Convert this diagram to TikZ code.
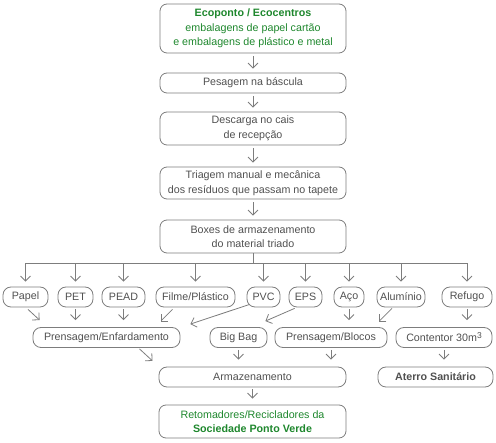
\documentclass[tikz,border=0pt]{standalone}
\usepackage{fontspec}
\setmainfont{Liberation Sans}
\usetikzlibrary{arrows.meta,calc}
\definecolor{linegray}{RGB}{125,125,125}
\definecolor{txtgray}{RGB}{80,80,80}
\definecolor{ecogreen}{RGB}{30,135,45}
\begin{document}
\begin{tikzpicture}[x=1pt,y=-1pt,
  box/.style={draw=linegray,line width=0.8pt,rounded corners=7pt,text=txtgray,
    font=\fontsize{10.7}{14.5}\selectfont,align=center,inner sep=0pt,
    minimum width=186pt},
  pill/.style={draw=linegray,line width=0.8pt,rounded corners=8pt,text=txtgray,
    font=\fontsize{10.7}{13}\selectfont,align=center,inner sep=0pt,
    minimum height=20pt},
  arr/.style={draw=linegray,line width=0.8pt,-{Straight Barb[length=5pt,width=10pt]}},
  ln/.style={draw=linegray,line width=0.8pt}]
\useasboundingbox (0,0) rectangle (496,443);

\node[box,minimum height=49pt,text=ecogreen] (eco) at (253,28.5)
  {\textbf{Ecoponto / Ecocentros}\\embalagens de papel cartão\\e embalagens de plástico e metal};
\node[box,minimum height=20pt] (pes) at (253,83) {Pesagem na báscula};
\node[box,minimum height=33pt] (des) at (253,128.5) {Descarga no cais\\de recepção};
\node[box,minimum height=32pt] (tri) at (253,183) {Triagem manual e mecânica\\dos resíduos que passam no tapete};
\node[box,minimum height=33pt] (boxes) at (253,236.5) {Boxes de armazenamento\\do material triado};

% row of materials
\node[pill,minimum width=45pt] (papel) at (25.5,297) {Papel};
\node[pill,minimum width=35pt] (pet) at (75.5,297) {PET};
\node[pill,minimum width=43pt] (pead) at (123.5,297) {PEAD};
\node[pill,minimum width=79pt] (filme) at (195.5,297) {Filme/Plástico};
\node[pill,minimum width=33pt] (pvc) at (263.5,297) {PVC};
\node[pill,minimum width=33pt] (eps) at (305.5,297) {EPS};
\node[pill,minimum width=30pt] (aco) at (349,297) {Aço};
\node[pill,minimum width=48pt] (alu) at (401,297) {Alumínio};
\node[pill,minimum width=50pt] (ref) at (467,297) {Refugo};

% processing row
\node[pill,minimum width=147pt] (penf) at (106.5,337.5) {Prensagem/Enfardamento};
\node[pill,minimum width=57pt] (bag) at (238.5,337.5) {Big Bag};
\node[pill,minimum width=112pt] (pblo) at (331,337.5) {Prensagem/Blocos};
\node[pill,minimum width=96pt] (cont) at (444,337.5) {Contentor 30m\raisebox{0.5ex}{\fontsize{8.5}{10}\selectfont 3}};

% storage row
\node[pill,minimum width=187pt] (arm) at (252.5,377) {Armazenamento};
\node[pill,minimum width=115pt,font=\fontsize{10.7}{13}\selectfont\bfseries] (ate) at (435.5,377) {Aterro Sanitário};
\node[box,minimum width=187pt,minimum height=33pt,text=ecogreen] (ret) at (252.5,421.5)
  {Retomadores/Recicladores da\\\textbf{Sociedade Ponto Verde}};

% main chain
\draw[arr,shorten <=3pt,shorten >=4pt] (eco) -- (pes);
\draw[arr,shorten <=3pt,shorten >=4pt] (pes) -- (des);
\draw[arr,shorten <=3pt,shorten >=4pt] (des) -- (tri);
\draw[arr,shorten <=3pt,shorten >=4pt] (tri) -- (boxes);

% distribution
\coordinate (bus) at (253,263.5);
\draw[ln] (boxes.south) -- (bus);
\draw[ln] (papel.north |- bus) -- (ref.north |- bus);
\foreach \n in {papel,pet,pead,filme,pvc,eps,aco,alu,ref}{
  \draw[arr,shorten >=5pt] (\n.north |- bus) -- (\n.north);
}

% materials to processing
\draw[arr] ($(papel.south)+(2.5,2)$) -- ($(penf.north west)+(7,-7)$);
\draw[arr,shorten <=2pt,shorten >=7pt] (pet.south) -- (pet.south |- penf.north);
\draw[arr,shorten <=2pt,shorten >=7pt] (pead.south) -- (pead.south |- penf.north);
\draw[arr] ($(filme.south)+(-23,2)$) -- ($(filme.south)+(-35,14)$);
\draw[arr] ($(pvc.south west)+(3,-3)$) -- ($(penf.north east)+(10,-3)$);
\draw[arr] ($(eps.south west)+(6,1)$) -- ($(bag.north east)+(-2,-6)$);
\draw[arr,shorten <=2pt,shorten >=7pt] (aco.south) -- (aco.south |- pblo.north);
\draw[arr] ($(alu.south)+(-9,1)$) -- ($(alu.south)+(-22,14)$);
\draw[arr,shorten <=2pt,shorten >=7pt] (ref.south) -- (ref.south |- cont.north);

% processing to storage
\draw[arr] ($(penf.south)+(33,1)$) -- ($(penf.south)+(46,13)$);
\draw[arr,shorten <=2pt,shorten >=7pt] (bag.south) -- (bag.south |- arm.north);
\draw[arr,shorten <=2pt,shorten >=7pt] (pblo.south) -- (pblo.south |- arm.north);
\draw[arr,shorten <=2pt,shorten >=7pt] (cont.south) -- (cont.south |- ate.north);
\draw[arr,shorten <=2pt,shorten >=6pt] (arm.south) -- (ret.north);
\end{tikzpicture}
\end{document}
